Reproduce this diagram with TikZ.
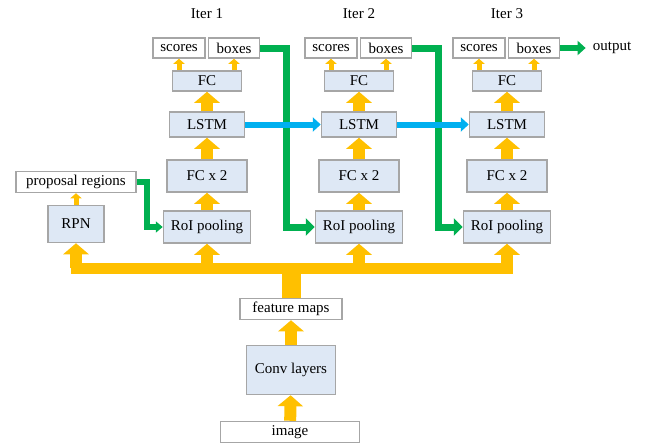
\documentclass[tikz,border=0pt]{standalone}
\usepackage{fontspec}
\setmainfont{Liberation Serif}
\usepackage{tikz}
\usetikzlibrary{arrows.meta,positioning}

\definecolor{boxfill}{HTML}{DEE8F5}
\definecolor{boxline}{HTML}{A6A6A6}
\definecolor{flowyellow}{HTML}{FFC000}
\definecolor{flowgreen}{HTML}{00B050}
\definecolor{flowblue}{HTML}{00B0F0}

\begin{document}
\begin{tikzpicture}[
    x=1pt, y=-1pt,
    font=\fontsize{15}{18}\selectfont,
    layer/.style={draw=boxline, line width=1.5pt, fill=boxfill, inner sep=0pt, align=center},
    blob/.style={draw=boxline, line width=1.5pt, fill=white, inner sep=0pt, minimum height=21pt},
    bigarrow/.style={draw=flowyellow, line width=12pt, -{Triangle[width=25pt,length=11pt]}},
    smallarrow/.style={draw=flowyellow, line width=5pt, -{Triangle[width=11pt,length=5pt]}},
    greenarrow/.style={draw=flowgreen, line width=7pt, line join=miter, -{Triangle[width=17pt,length=9pt]}},
    bluearrow/.style={draw=flowblue, line width=6pt, -{Triangle[width=14pt,length=8pt]}}
]
\useasboundingbox (0,0) rectangle (647,447);

% backbone
\node[blob, minimum width=139pt] (img) at (290,432) {image};
\node[layer, minimum width=89pt, minimum height=49pt] (conv) at (291,370) {Conv layers};
\node[blob, minimum width=102pt] (fmap) at (291,309) {feature maps};
\node[layer, minimum width=56pt, minimum height=37pt] (rpn) at (76,224) {RPN};
\node[blob, minimum width=120pt] (prop) at (76,182) {proposal regions};
\coordinate (bus) at (291,268);

% three iterations
\foreach \i/\x in {1/207, 2/359, 3/507} {
    \node (iter\i) at (\x,14) {Iter \i};
    \node[blob, minimum width=52pt, minimum height=20pt] (scores\i) at (\x-28,48) {scores};
    \node[blob, minimum width=51pt, minimum height=20pt] (boxes\i) at (\x+27,48) {boxes};
    \node[layer, minimum width=69pt, minimum height=20pt] (fc\i) at (\x,81) {FC};
    \node[layer, minimum width=75pt, minimum height=25pt] (lstm\i) at (\x,124.5) {LSTM};
    \node[layer, minimum width=80pt, minimum height=32pt] (fcc\i) at (\x,176) {FC x 2};
    \node[layer, minimum width=87pt, minimum height=32pt] (roi\i) at (\x,227) {RoI pooling};
    \draw[bigarrow] (roi\i) -- (fcc\i);
    \draw[bigarrow] (fcc\i) -- (lstm\i);
    \draw[bigarrow] (lstm\i) -- (fc\i);
    \draw[smallarrow] (fc\i.north -| scores\i.south) -- (scores\i.south);
    \draw[smallarrow] (fc\i.north -| boxes\i.south) -- (boxes\i.south);
    \draw[bigarrow] (bus -| roi\i.south) -- (roi\i.south);
}
\node[inner sep=7pt] (out) at (612,48) {output};

% yellow feature bus
\draw[bigarrow] (img) -- (conv);
\draw[bigarrow] (conv) -- (fmap);
\draw[draw=flowyellow, line width=19pt] (fmap.north) -- (bus);
\draw[draw=flowyellow, line width=11pt, line cap=rect] (bus -| rpn.south) -- (bus -| roi3.south);
\draw[bigarrow] (bus -| rpn.south) -- (rpn.south);
\draw[smallarrow] (rpn) -- (prop);

% green box feedback
\draw[greenarrow, line width=6pt, -{Triangle[width=11pt,length=7pt]}] (prop.east) -- ++(10,0) |- (roi1.west);
\draw[greenarrow] (boxes1.east) -- ++(26,0) |- (roi2.west);
\draw[greenarrow] (boxes2.east) -- ++(26,0) |- (roi3.west);
\draw[greenarrow, line width=6pt, -{Triangle[width=14pt,length=8pt]}] (boxes3.east) -- (out.west);

% blue recurrent state
\draw[bluearrow] (lstm1) -- (lstm2);
\draw[bluearrow] (lstm2) -- (lstm3);
\end{tikzpicture}
\end{document}
